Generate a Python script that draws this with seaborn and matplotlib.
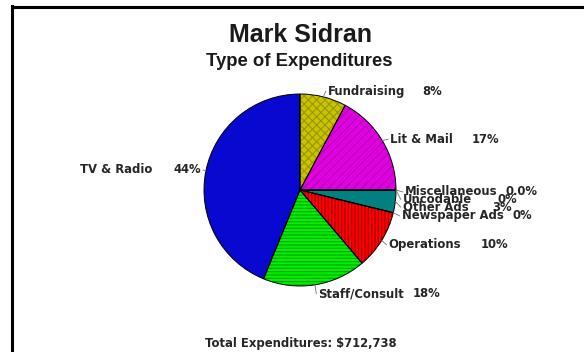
import matplotlib
matplotlib.use("Agg")
from matplotlib import pyplot as plt
from matplotlib.lines import Line2D
import numpy as np
import seaborn as sns

# slices, counter-clockwise starting at 12 o'clock
categories = ["TV & Radio", "Staff/Consult", "Operations", "Newspaper Ads",
              "Other Ads", "Uncodable", "Miscellaneous", "Lit & Mail", "Fundraising"]
shares = [43.8, 17.4, 10.0, 0.0, 3.8, 0.0, 0.0, 17.2, 7.8]
pct_labels = ["44%", "18%", "10%", "0%", "3%", "0%", "0.0%", "17%", "8%"]
colors = ["#0808d0", "#00f000", "#ff0000", "#ff0000", "#008080",
          "#008080", "#008080", "#e000e0", "#c8c400"]
hatch_colors = ["#0808d0", "#00a000", "#a00000", "#a00000", "#008080",
                "#008080", "#008080", "#b000b0", "#9a9600"]
hatches = ["", "-----", "|||||", "", "", "", "", "////", "xxxx"]

title = "Mark Sidran"
subtitle = "Type of Expenditures"
footer = "Total Expenditures: $712,738"

# label layout (pie radius = 1): name left x, pct right x, y
label_pos = {
    "TV & Radio": (-2.29, -1.03, 0.21),
    "Staff/Consult": (0.19, 1.46, -1.08),
    "Operations": (0.92, 2.17, -0.57),
    "Newspaper Ads": (1.06, 2.42, -0.27),
    "Other Ads": (1.07, 2.21, -0.18),
    "Uncodable": (1.07, 2.26, -0.10),
    "Miscellaneous": (1.09, 2.47, -0.02),
    "Lit & Mail": (0.94, 2.08, 0.53),
    "Fundraising": (0.29, 1.48, 1.03),
}

sns.set_theme(style="white")
plt.rcParams["font.family"] = ["Liberation Sans", "DejaVu Sans"]
plt.rcParams["hatch.linewidth"] = 0.8

W, H = 584, 352
cx, cy, R = 300, 190, 96
fig = plt.figure(figsize=(W / 100, H / 100), dpi=100)
fig.patch.set_facecolor("white")
ax = fig.add_axes([0, 0, 1, 1])

wedges, _ = ax.pie(shares, colors=colors, startangle=90, counterclock=True,
                   wedgeprops=dict(linewidth=0))
for w, h, hc in zip(wedges, hatches, hatch_colors):
    w.set_edgecolor(hc)
    w.set_hatch(h)
ax.pie(shares, startangle=90, counterclock=True,
       wedgeprops=dict(fill=False, edgecolor="black", linewidth=0.7))

ax.set_xlim(-cx / R, (W - cx) / R)
ax.set_ylim((cy - H) / R, cy / R)
ax.set_aspect("auto")
ax.axis("off")

txt = dict(fontsize=8.4, fontweight="bold", color="#262626", va="center",
           family="DejaVu Sans")
for w, name, pct in zip(wedges, categories, pct_labels):
    xl, xr, y = label_pos[name]
    ang = np.deg2rad((w.theta1 + w.theta2) / 2)
    px, py = np.cos(ang), np.sin(ang)
    if xl < 0:
        ax.plot([px, xr + 0.02], [py, y], color="#707070", lw=0.6)
    else:
        ax.plot([px, xl - 0.02], [py, y], color="#707070", lw=0.6)
    ax.text(xl, y, name, ha="left", **txt)
    ax.text(xr, y, pct, ha="right", **txt)

fig.text(300 / W, 1 - 35 / H, title, ha="center", va="center",
         fontsize=18, fontweight="bold", color="#1a1a1a")
fig.text(299 / W, 1 - 61 / H, subtitle, ha="center", va="center",
         fontsize=13.3, fontweight="bold", color="#1a1a1a")
fig.text(301 / W, 1 - 343 / H, footer, ha="center", va="center",
         fontsize=8.4, fontweight="bold", color="#262626", family="DejaVu Sans")

# frame: left and top edges only
fig.add_artist(Line2D([11.5 / W, 11.5 / W], [0, 1 - 6 / H], color="black",
                      lw=2.2, transform=fig.transFigure, solid_capstyle="projecting"))
fig.add_artist(Line2D([11.5 / W, 1], [1 - 6.5 / H, 1 - 6.5 / H], color="black",
                      lw=2.2, transform=fig.transFigure, solid_capstyle="projecting"))

plt.savefig("out.png", dpi=100, facecolor="white")
